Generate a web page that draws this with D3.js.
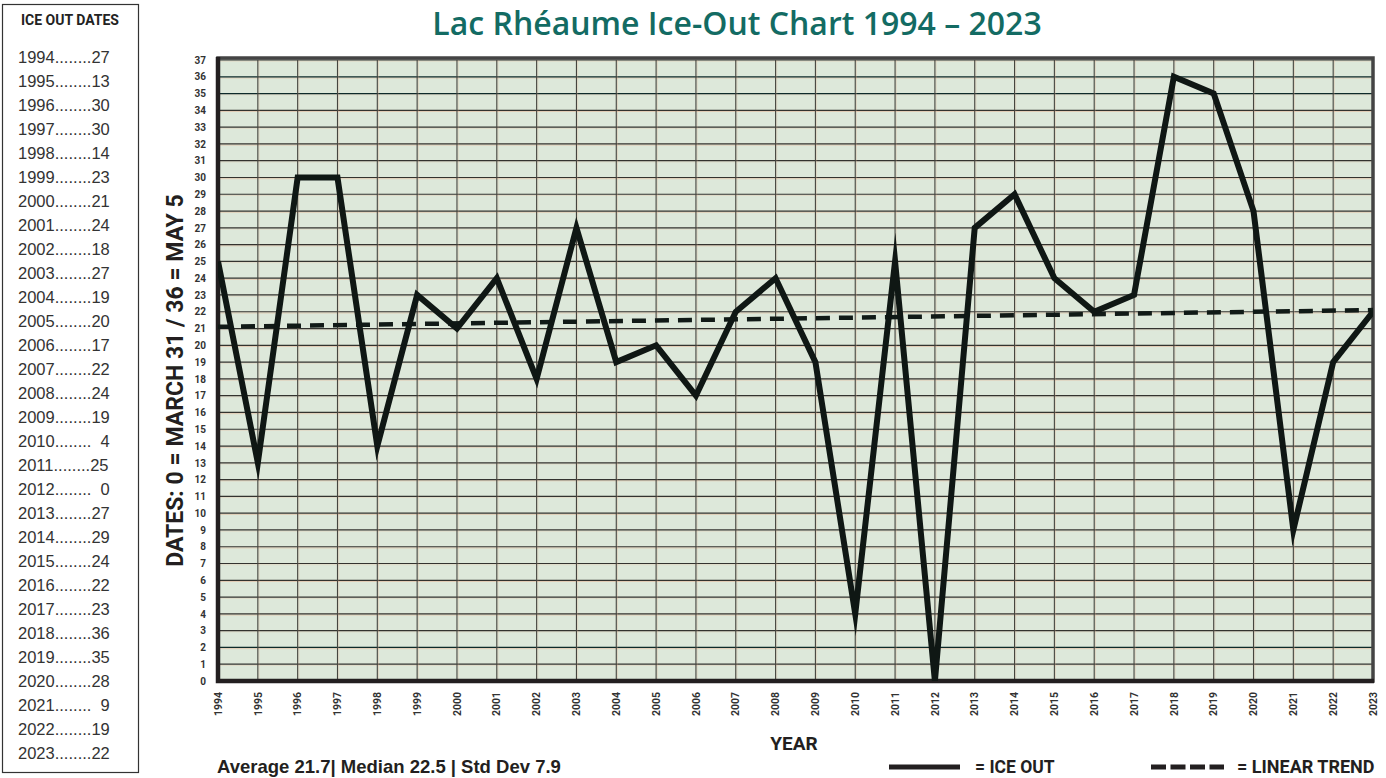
<!DOCTYPE html>
<html>
<head>
<meta charset="utf-8">
<script src="https://cdn.jsdelivr.net/npm/d3@7"></script>
<style>
  html, body { margin: 0; padding: 0; background: #fff; }
  svg { display: block; }
</style>
</head>
<body>
<svg id="chart" width="1386" height="778"></svg>
<script>
// years on the x axis, values plotted by the line (as drawn in the picture)
const years = d3.range(1994, 2024);
const iceOut = [25, 13, 30, 30, 14, 23, 21, 24, 18, 27, 19, 20, 17, 22, 24, 19, 4, 25, 0, 27, 29, 24, 22, 23, 36, 35, 28, 9, 19, 22];
// linear trend end points
const trendYears = [1994, 2023];
const trendValues = [21.1, 22.1];
// the side table of ice-out dates
const tableYears = years;
const tableValues = [27, 13, 30, 30, 14, 23, 21, 24, 18, 27, 19, 20, 17, 22, 24, 19, 4, 25, 0, 27, 29, 24, 22, 23, 36, 35, 28, 9, 19, 22];
const yTicks = d3.range(0, 38);

const titleText = "Lac Rhéaume Ice-Out Chart 1994 – 2023";
const statsText = "Average 21.7| Median 22.5 | Std Dev 7.9";
const yTitle = "DATES: 0 = MARCH 31 / 36 = MAY 5";

const svg = d3.select("#chart");
const narrow = "'Liberation Sans Narrow', 'Roboto', 'Liberation Sans', sans-serif";
const plain = "'Liberation Sans', Arial, sans-serif";

const pLeft = 218, pRight = 1373, pTop = 60, pBottom = 681;
const x = d3.scaleLinear().domain([1994, 2023]).range([pLeft, pRight]);
const y = d3.scaleLinear().domain([0, 37]).range([pBottom, pTop]);

// title
svg.append("text")
  .attr("x", 737).attr("y", 35)
  .attr("text-anchor", "middle")
  .attr("font-family", "'Open Sans', sans-serif")
  .attr("font-weight", 600)
  .attr("font-size", 32)
  .attr("fill", "#136b63")
  .text(titleText);

// side table
const box = svg.append("g");
box.append("rect")
  .attr("x", 2.5).attr("y", 4.5).attr("width", 136).attr("height", 768)
  .attr("fill", "#fff").attr("stroke", "#333").attr("stroke-width", 1.2);
box.append("text")
  .attr("x", 70).attr("y", 25)
  .attr("text-anchor", "middle")
  .attr("font-family", narrow).attr("font-weight", 700)
  .attr("font-size", 14).attr("fill", "#222")
  .text("ICE OUT DATES");
box.selectAll("text.row")
  .data(tableYears.map((yr, i) => ({ yr, v: tableValues[i] })))
  .join("text")
  .attr("class", "row")
  .attr("x", 18)
  .attr("y", (d, i) => 63 + i * 24)
  .attr("font-family", plain).attr("font-size", 16.5).attr("fill", "#333")
  .text(d => d.yr + "........" + (d.v < 10 ? "\u2007" + d.v : d.v));

// plot background
svg.append("rect")
  .attr("x", pLeft).attr("y", pTop - 2).attr("width", pRight - pLeft).attr("height", pBottom - pTop + 2)
  .attr("fill", "#dde8da");

// grid
const grid = svg.append("g");
grid.selectAll("line.hs")
  .data(yTicks.slice(1))
  .join("line")
  .attr("x1", pLeft).attr("x2", pRight)
  .attr("y1", d => y(d) + 1.2).attr("y2", d => y(d) + 1.2)
  .attr("stroke", "#e8a37e").attr("stroke-width", 0.8).attr("opacity", d => d % 2 ? 0.25 : 0.5);
grid.selectAll("line.h")
  .data(yTicks.slice(1))
  .join("line")
  .attr("x1", pLeft).attr("x2", pRight)
  .attr("y1", d => y(d)).attr("y2", d => y(d))
  .attr("stroke", d => (d === 35 || d === 36 || d === 2) ? "#0d2a2a" : "#33332f")
  .attr("stroke-width", 1.2);
grid.selectAll("line.vs")
  .data(years.slice(1, -1))
  .join("line")
  .attr("x1", d => x(d) + 1.2).attr("x2", d => x(d) + 1.2)
  .attr("y1", pTop).attr("y2", pBottom)
  .attr("stroke", "#e0a888").attr("stroke-width", 0.8).attr("opacity", 0.35);
grid.selectAll("line.v")
  .data(years.slice(1, -1))
  .join("line")
  .attr("x1", d => x(d)).attr("x2", d => x(d))
  .attr("y1", pTop).attr("y2", pBottom)
  .attr("stroke", "#45453f").attr("stroke-width", 1.1);

// frame
svg.append("rect")
  .attr("x", pLeft).attr("y", pTop - 2).attr("width", pRight - pLeft).attr("height", pBottom - pTop + 2)
  .attr("fill", "none").attr("stroke", "#444").attr("stroke-width", 3.5);
svg.append("path")
  .attr("d", `M${pLeft},${pTop - 3}V${pBottom}H${pRight + 1}`)
  .attr("fill", "none").attr("stroke", "#231f20").attr("stroke-width", 4.5);

// y axis labels
const yAxis = d3.axisLeft(y).tickValues(yTicks).tickSize(0).tickPadding(12).tickFormat(d3.format("d"));
svg.append("g")
  .attr("transform", `translate(${pLeft},0)`)
  .call(yAxis)
  .call(g => g.select(".domain").remove())
  .call(g => g.selectAll("text")
    .attr("font-family", narrow).attr("font-weight", 700)
    .attr("font-size", 10).attr("fill", "#333"));

// x axis labels
svg.append("g")
  .selectAll("text")
  .data(years)
  .join("text")
  .attr("transform", d => `translate(${x(d)},${692}) rotate(-90)`)
  .attr("text-anchor", "end")
  .attr("dy", "0.35em")
  .attr("font-family", narrow).attr("font-weight", 700)
  .attr("font-size", 10.5).attr("fill", "#333")
  .text(d => d);

// clip for the lines
svg.append("clipPath").attr("id", "plotClip")
  .append("rect").attr("x", pLeft).attr("y", pTop - 2).attr("width", pRight - pLeft).attr("height", pBottom - pTop + 2);

// trend
const trendLine = d3.line().x(d => x(d[0])).y(d => y(d[1]));
svg.append("path")
  .datum(trendYears.map((yr, i) => [yr, trendValues[i]]))
  .attr("clip-path", "url(#plotClip)")
  .attr("d", trendLine)
  .attr("fill", "none").attr("stroke", "#111a17")
  .attr("stroke-width", 4.5).attr("stroke-dasharray", "14 9");

// ice out line
const iceLine = d3.line().x((d, i) => x(years[i])).y(d => y(d)).curve(d3.curveLinear);
svg.append("path")
  .datum(iceOut)
  .attr("clip-path", "url(#plotClip)")
  .attr("d", iceLine)
  .attr("fill", "none").attr("stroke", "#0f1714")
  .attr("stroke-width", 6).attr("stroke-linejoin", "miter").attr("stroke-miterlimit", 10);

// y title
svg.append("text")
  .attr("transform", `translate(183,${(pTop + pBottom) / 2 + 10}) rotate(-90)`)
  .attr("text-anchor", "middle")
  .attr("font-family", narrow).attr("font-weight", 700)
  .attr("font-size", 23).attr("fill", "#231f20")
  .text(yTitle);

// x title
svg.append("text")
  .attr("x", 794).attr("y", 750)
  .attr("text-anchor", "middle")
  .attr("font-family", narrow).attr("font-weight", 700)
  .attr("font-size", 19).attr("fill", "#231f20")
  .text("YEAR");

// stats
svg.append("text")
  .attr("x", 217).attr("y", 773)
  .attr("font-family", plain).attr("font-weight", 700)
  .attr("font-size", 18.5).attr("fill", "#231f20")
  .text(statsText);

// legend
const leg = svg.append("g");
leg.append("line")
  .attr("x1", 889).attr("x2", 960).attr("y1", 767).attr("y2", 767)
  .attr("stroke", "#231f20").attr("stroke-width", 5);
leg.append("text")
  .attr("x", 975).attr("y", 773)
  .attr("font-family", narrow).attr("font-weight", 700)
  .attr("font-size", 17.5).attr("fill", "#231f20")
  .text("= ICE OUT");
leg.append("line")
  .attr("x1", 1151).attr("x2", 1224).attr("y1", 767).attr("y2", 767)
  .attr("stroke", "#231f20").attr("stroke-width", 5).attr("stroke-dasharray", "15 4.5");
leg.append("text")
  .attr("x", 1237).attr("y", 773)
  .attr("font-family", narrow).attr("font-weight", 700)
  .attr("font-size", 18).attr("fill", "#231f20")
  .text("=  LINEAR TREND");
</script>
</body>
</html>
